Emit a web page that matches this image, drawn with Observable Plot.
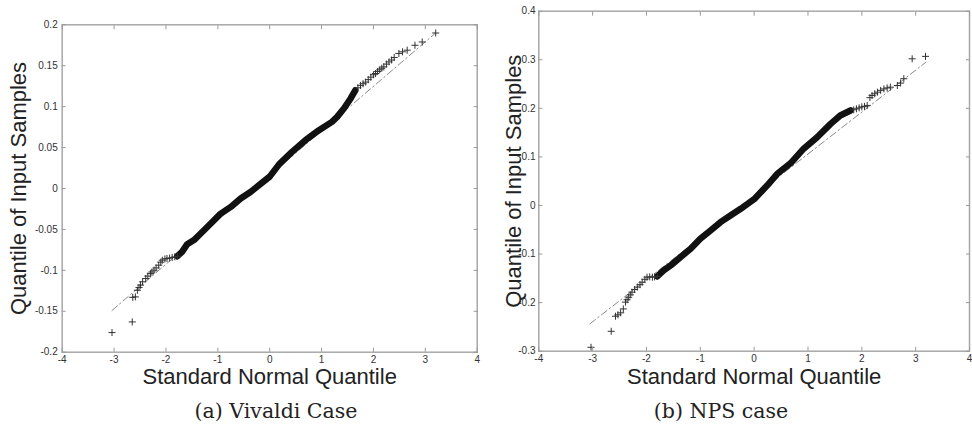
<!DOCTYPE html>
<html>
<head>
<meta charset="utf-8">
<script src="https://cdn.jsdelivr.net/npm/d3@7"></script>
<script src="https://cdn.jsdelivr.net/npm/@observablehq/plot@0.6"></script>
<style>
  html, body { margin: 0; padding: 0; background: #fff; }
  #wrap { position: relative; width: 972px; height: 429px; overflow: hidden; }
  .panel { position: absolute; top: 0; }
  .caption { position: absolute; font-family: "DejaVu Serif", serif; font-size: 20.5px; line-height: 24px; color: #222; white-space: nowrap; transform: translateX(-50%); }
</style>
</head>
<body>
<div id="wrap">
  <div id="pa" class="panel" style="left:0px"></div>
  <div id="pb" class="panel" style="left:490px"></div>
  <div class="caption" style="left:276px; top:399px">(a) Vivaldi Case</div>
  <div class="caption" style="left:721px; top:399px">(b) NPS case</div>
</div>
<script>
// ---- shared axis ticks ----
const xTicks = [-4, -3, -2, -1, 0, 1, 2, 3, 4];
const xTickLabels = ["-4", "-3", "-2", "-1", "0", "1", "2", "3", "4"];
const xTitle = "Standard Normal Quantile";
const yTitle = "Quantile of Input Samples";

// ---- (a) Vivaldi case ----
const vivYTicks = [-0.2, -0.15, -0.1, -0.05, 0, 0.05, 0.1, 0.15, 0.2];
const vivYTickLabels = ["-0.2", "-0.15", "-0.1", "-0.05", "0", "0.05", "0.1", "0.15", "0.2"];
// dense central band of samples
const vivBandX = [-1.78, -1.69, -1.59, -1.46, -1.33, -1.14, -0.95, -0.75, -0.56, -0.37, 0.0, 0.18, 0.43, 0.69, 0.95, 1.20, 1.30, 1.43, 1.56, 1.65];
const vivBandY = [-0.0827, -0.0774, -0.068, -0.063, -0.055, -0.043, -0.031, -0.0225, -0.0122, -0.0042, 0.0145, 0.0295, 0.0447, 0.059, 0.0712, 0.0814, 0.0875, 0.0977, 0.110, 0.120];
// sparse tail samples
const vivPtsX = [-3.04, -2.65, -2.64, -2.59, -2.55, -2.52, -2.49, -2.45, -2.39, -2.35, -2.30, -2.27, -2.23, -2.19, -2.14, -2.10, -2.07, -2.02, -1.98, -1.93, -1.88, -1.83, -1.78,
                 1.70, 1.75, 1.80, 1.85, 1.90, 1.95, 2.00, 2.04, 2.08, 2.12, 2.16, 2.20, 2.25, 2.30, 2.35, 2.40, 2.49, 2.56, 2.65, 2.80, 2.94, 3.20];
const vivPtsY = [-0.176, -0.163, -0.133, -0.1324, -0.1243, -0.121, -0.118, -0.114, -0.110, -0.107, -0.104, -0.102, -0.0998, -0.097, -0.0937, -0.090, -0.0876, -0.086, -0.0855, -0.085, -0.0843, -0.0835, -0.0827,
                 0.123, 0.126, 0.128, 0.130, 0.133, 0.136, 0.139, 0.1405, 0.143, 0.145, 0.147, 0.1486, 0.152, 0.1547, 0.157, 0.160, 0.165, 0.167, 0.169, 0.175, 0.179, 0.190];
const vivRefX = [-3.04, 3.2];
const vivRefY = [-0.149, 0.190];

// ---- (b) NPS case ----
const npsYTicks = [-0.3, -0.2, -0.1, 0, 0.1, 0.2, 0.3, 0.4];
const npsYTickLabels = ["-0.3", "-0.2", "-0.1", "0", "0.1", "0.2", "0.3", "0.4"];
const npsBandX = [-1.80, -1.68, -1.55, -1.37, -1.18, -1.00, -0.81, -0.625, -0.44, -0.25, 0.0, 0.24, 0.43, 0.675, 0.92, 1.17, 1.42, 1.60, 1.79];
const npsBandY = [-0.146, -0.1338, -0.1235, -0.1064, -0.0892, -0.0686, -0.0515, -0.0343, -0.0206, -0.0068, 0.013, 0.041, 0.0653, 0.0868, 0.117, 0.1406, 0.168, 0.1853, 0.1956];
const npsPtsX = [-3.03, -2.655, -2.575, -2.53, -2.48, -2.43, -2.39, -2.36, -2.33, -2.30, -2.27, -2.22, -2.17, -2.12, -2.08, -2.03, -1.99, -1.94, -1.89, -1.85, -1.80,
                 1.85, 1.90, 1.95, 2.00, 2.05, 2.10, 2.15, 2.19, 2.24, 2.29, 2.35, 2.41, 2.47, 2.53, 2.66, 2.72, 2.78, 2.935, 3.183];
const npsPtsY = [-0.292, -0.259, -0.228, -0.225, -0.221, -0.213, -0.199, -0.194, -0.189, -0.184, -0.1785, -0.173, -0.168, -0.163, -0.158, -0.152, -0.1476, -0.147, -0.1476, -0.147, -0.146,
                 0.197, 0.199, 0.201, 0.203, 0.204, 0.206, 0.222, 0.2265, 0.230, 0.2333, 0.237, 0.240, 0.242, 0.2436, 0.247, 0.252, 0.261, 0.302, 0.307];
const npsRefX = [-3.05, 3.19];
const npsRefY = [-0.2436, 0.295];

function panel(cfg) {
  const band = cfg.bandX.map((x, i) => ({x, y: cfg.bandY[i]}));
  const pts = cfg.ptsX.map((x, i) => ({x, y: cfg.ptsY[i]}));
  const ref = cfg.refX.map((x, i) => ({x, y: cfg.refY[i]}));
  const fx = d => xTickLabels[xTicks.indexOf(d)];
  const fy = d => cfg.yLabels[cfg.yTicks.indexOf(d)];
  return Plot.plot({
    width: cfg.width,
    height: 390,
    marginTop: cfg.mt, marginLeft: cfg.ml, marginRight: cfg.mr, marginBottom: 390 - cfg.fb,
    x: {domain: [-4, 4]},
    y: {domain: cfg.yDomain},
    style: {fontFamily: "'Liberation Sans', Arial, sans-serif", fontSize: "10px", color: "#333", background: "transparent", overflow: "visible"},
    marks: [
      Plot.line(ref, {x: "x", y: "y", stroke: "#8a8a8a", strokeWidth: 1, strokeDasharray: "7,3,1.5,3"}),
      Plot.line(band, {x: "x", y: "y", stroke: "#111", strokeWidth: 6.5, strokeLinejoin: "round", strokeLinecap: "round"}),
      Plot.dot(pts, {x: "x", y: "y", symbol: "plus", r: 2.4, stroke: "#333", strokeWidth: 1}),
      Plot.frame({stroke: "#a8a8a8", strokeWidth: 1.5}),
      Plot.axisX(xTicks, {anchor: "bottom", tickSize: 0, tickPadding: 4, tickFormat: fx, label: null}),
      Plot.axisX(xTicks, {anchor: "bottom", tickSize: -4, tickFormat: () => "", label: null, stroke: "#999"}),
      Plot.axisX(xTicks, {anchor: "top", tickSize: -4, tickFormat: () => "", label: null, stroke: "#999"}),
      Plot.axisY(cfg.yTicks, {anchor: "left", tickSize: 0, tickPadding: cfg.yPad, tickFormat: fy, label: null}),
      Plot.axisY(cfg.yTicks, {anchor: "left", tickSize: -4, tickFormat: () => "", label: null, stroke: "#999"}),
      Plot.axisY(cfg.yTicks, {anchor: "right", tickSize: -4, tickFormat: () => "", label: null, stroke: "#999"}),
      Plot.text([xTitle], {frameAnchor: "bottom", dy: cfg.xtDy, fontSize: 22, fill: "#222", textAnchor: "middle", lineAnchor: "middle"}),
      Plot.text([yTitle], {frameAnchor: "left", dx: cfg.ytDx, rotate: -90, fontSize: 22, fill: "#222", textAnchor: "middle", lineAnchor: "middle"})
    ]
  });
}

document.getElementById("pa").appendChild(panel({
  width: 490, mt: 24.3, ml: 61.7, mr: 13.3, fb: 351.7, yDomain: [-0.2, 0.2],
  yTicks: vivYTicks, yLabels: vivYTickLabels, yPad: 4.5,
  bandX: vivBandX, bandY: vivBandY, ptsX: vivPtsX, ptsY: vivPtsY, refX: vivRefX, refY: vivRefY,
  xtDy: 25, ytDx: -43.7
}));
document.getElementById("pb").appendChild(panel({
  width: 482, mt: 10.7, ml: 48.3, mr: 3, fb: 350.7, yDomain: [-0.3, 0.4],
  yTicks: npsYTicks, yLabels: npsYTickLabels, yPad: 3.3,
  bandX: npsBandX, bandY: npsBandY, ptsX: npsPtsX, ptsY: npsPtsY, refX: npsRefX, refY: npsRefY,
  xtDy: 25.5, ytDx: -25
}));
</script>
</body>
</html>
